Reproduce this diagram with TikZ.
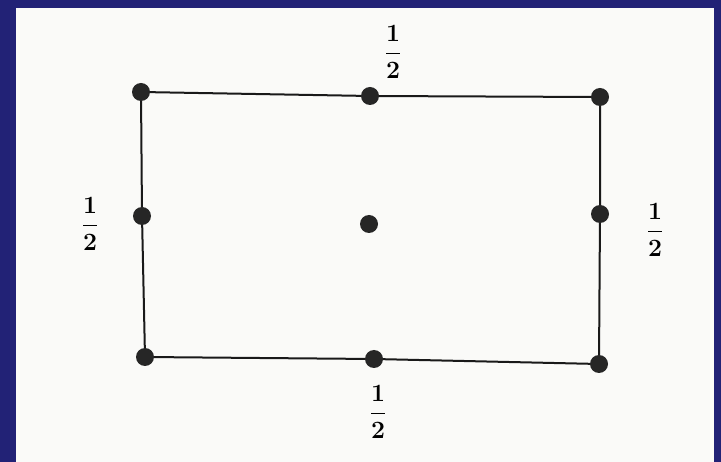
\documentclass[tikz,border=0pt]{standalone}
\usepackage{amsmath}
\definecolor{navy}{RGB}{34,34,118}
\definecolor{paper}{RGB}{250,250,248}
\begin{document}
\begin{tikzpicture}[x=1pt,y=-1pt,
  dot/.style={circle,fill=black!85,inner sep=0pt,minimum size=18pt},
  edge/.style={line width=2pt,black!90},
  frac/.style={font=\fontsize{31}{36}\selectfont\boldmath}]
\fill[navy] (0,0) rectangle (721,462);
\useasboundingbox (0,0) rectangle (721,462);
\fill[paper] (16,8) rectangle (714,462);
\node[dot] (tl) at (141,92) {};
\node[dot] (tm) at (370,96) {};
\node[dot] (tr) at (600,97) {};
\node[dot] (ml) at (142,216) {};
\node[dot] (c) at (369,224) {};
\node[dot] (mr) at (600,214) {};
\node[dot] (bl) at (145,357) {};
\node[dot] (bm) at (374,359) {};
\node[dot] (br) at (599,364) {};
\draw[edge] (tl) -- (tm) -- (tr);
\draw[edge] (tr) -- (mr) -- (br);
\draw[edge] (br) -- (bm) -- (bl);
\draw[edge] (bl) -- (ml) -- (tl);
\node[frac] (lt) at (393,52) {$\dfrac{1}{2}$};
\node[frac] (lb) at (378,412) {$\dfrac{1}{2}$};
\node[frac] (ll) at (90,224) {$\dfrac{1}{2}$};
\node[frac] (lr) at (655,230) {$\dfrac{1}{2}$};
\end{tikzpicture}
\end{document}
